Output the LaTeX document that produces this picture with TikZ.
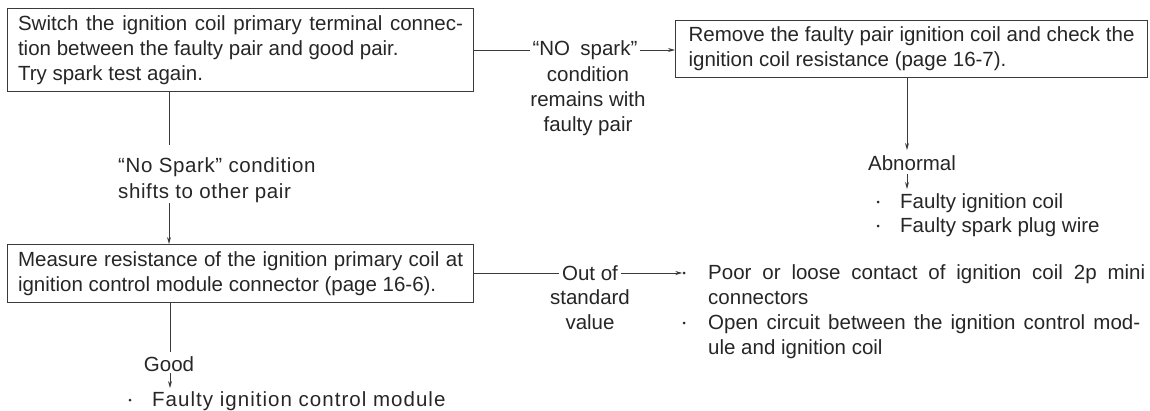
\documentclass[tikz,border=0pt]{standalone}
\usepackage{fontspec}
\setmainfont{Liberation Sans}
\usetikzlibrary{arrows.meta}
\definecolor{ink}{HTML}{262626}
\definecolor{rule}{HTML}{3A3A3A}
\newcommand{\fsz}{\fontsize{20.5}{25}\selectfont}
\tikzset{
  box/.style={draw=rule, line width=1.1pt, inner xsep=10pt, inner ysep=0pt,
    align=left, font=\fsz, text=ink, anchor=north west},
  lbl/.style={inner sep=0pt, font=\fsz, text=ink},
  ln/.style={draw=rule, line width=0.9pt},
  arr/.style={draw=rule, line width=0.9pt, -{Stealth[length=7pt,width=4pt]}},
  dotb/.style={circle, fill=ink, inner sep=0pt, minimum size=3pt}
}
\begin{document}
\begin{tikzpicture}[x=1pt,y=-1pt]
\useasboundingbox (0,0) rectangle (1150,410);
% boxes
\node[box, minimum width=466pt, minimum height=83pt] (b1) at (7,8)
  {\makebox[445pt][s]{Switch the ignition coil primary terminal connec-}\\
   tion between the faulty pair and good pair.\\
   Try spark test again.};
\node[box, inner xsep=11pt, minimum width=472pt, minimum height=57pt] (b2) at (675,20)
  {\makebox[446pt][s]{Remove the faulty pair ignition coil and check the}\\
   ignition coil resistance (page 16-7).};
\node[box, minimum width=466pt, minimum height=58pt] (b3) at (7,244)
  {\makebox[445pt][s]{Measure resistance of the ignition primary coil at}\\
   ignition control module connector (page 16-6).};
% NO spark branch
\node[lbl, inner xsep=2pt] (ns) at (585,50) {“NO\enspace spark”};
\node[lbl, anchor=north, align=center, font=\fontsize{20.5}{25}\selectfont]
  (ns2) at (588,66.5) {condition\\remains with\\faulty pair};
\draw[ln] (b1.east |- ns.west) -- (ns.west);
\draw[arr] (ns.east) -- (b2.west |- ns.east);
% shifts branch
\coordinate (v1) at (169,145);
\coordinate (v2) at (169,203);
\node[lbl, anchor=north west, align=left,
  font=\fontsize{20.5}{26}\selectfont\addfontfeature{LetterSpace=3}]
  (l1) at (118,157.5) {“No Spark” condition\\shifts to other pair};
\draw[ln] (b1.south -| v1) -- (v1);
\draw[arr] (v2) -- (v2 |- b3.north);
% Abnormal branch
\coordinate (v3) at (907,150);
\node[lbl] (ab) at (912,163) {Abnormal};
\coordinate (v4) at (907,174);
\coordinate (v5) at (907,189);
\draw[arr] (b2.south -| v3) -- (v3);
\draw[arr] (v4) -- (v5);
\node[dotb] (d3) at (878,202) {};
\node[dotb] (d4) at (878,226) {};
\node[lbl, anchor=north west, align=left, font=\fontsize{20.5}{24}\selectfont]
  (al) at (900,193.5) {Faulty ignition coil\\Faulty spark plug wire};
% Out of standard value branch
\node[lbl, inner xsep=3pt] (oo) at (590,273) {Out of};
\node[lbl, anchor=north, align=center] (sv) at (590,289.5) {standard\\value};
\node[dotb] (d1) at (684,273) {};
\node[dotb] (d2) at (684,323) {};
\draw[ln] (b3.east |- oo.west) -- (oo.west);
\draw[arr] (oo.east) -- (d1.west);
\node[lbl, anchor=north west, align=left] (rl) at (708,264.5)
  {\makebox[437pt][s]{Poor or loose contact of ignition coil 2p mini}\\
   connectors\\
   \makebox[432pt][s]{Open circuit between the ignition control mod-}\\
   ule and ignition coil};
% Good branch
\coordinate (v6) at (170,352);
\node[lbl] (gd) at (169,364) {Good};
\coordinate (v7) at (170,373);
\coordinate (v8) at (170,388);
\draw[ln] (b3.south -| v6) -- (v6);
\draw[arr] (v7) -- (v8);
\node[dotb] (d5) at (130,400) {};
\node[lbl, anchor=north west, font=\fsz\addfontfeature{LetterSpace=5}]
  (fm) at (152,391.5) {Faulty ignition control module};
\end{tikzpicture}
\end{document}
